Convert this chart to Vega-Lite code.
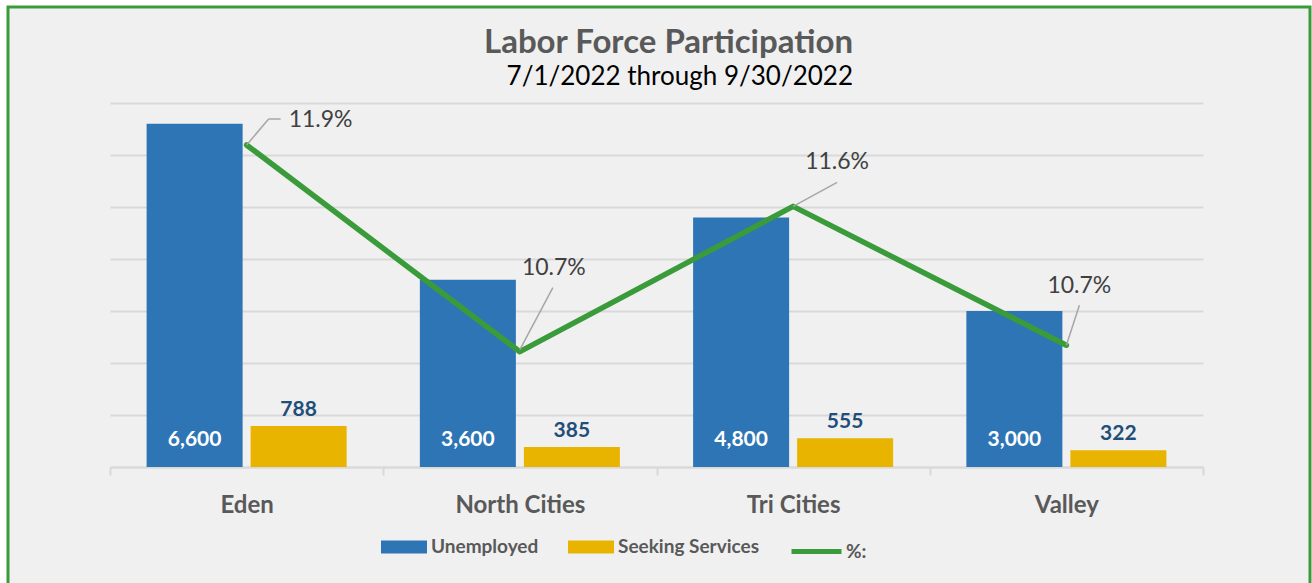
{
  "$schema": "https://vega.github.io/schema/vega-lite/v6.json",
  "width": 1302,
  "height": 581,
  "autosize": {"type": "none"},
  "padding": {"left": 8, "top": 7, "right": 2, "bottom": -5},
  "background": "#ffffff",
  "config": {
    "view": {"fill": "#f0f0f0", "stroke": "#3a9b3a", "strokeWidth": 3},
    "font": "Lato"
  },
  "title": {
    "text": "Labor Force Participation",
    "subtitle": "7/1/2022 through 9/30/2022",
    "anchor": "middle",
    "align": "right",
    "dx": 194,
    "offset": -83,
    "fontSize": 33,
    "fontWeight": "bold",
    "color": "#595959",
    "subtitleFontSize": 26,
    "subtitleColor": "#000000",
    "subtitlePadding": 4
  },
  "datasets": {
    "bars": [
      {"cat": "Eden", "series": "Unemployed", "value": 6600},
      {"cat": "Eden", "series": "Seeking Services", "value": 788},
      {"cat": "North Cities", "series": "Unemployed", "value": 3600},
      {"cat": "North Cities", "series": "Seeking Services", "value": 385},
      {"cat": "Tri Cities", "series": "Unemployed", "value": 4800},
      {"cat": "Tri Cities", "series": "Seeking Services", "value": 555},
      {"cat": "Valley", "series": "Unemployed", "value": 3000},
      {"cat": "Valley", "series": "Seeking Services", "value": 322}
    ],
    "pct": [
      {"cat": "Eden", "pct": 0.1194},
      {"cat": "North Cities", "pct": 0.1066},
      {"cat": "Tri Cities", "pct": 0.1156},
      {"cat": "Valley", "pct": 0.1070}
    ]
  },
  "layer": [
    {
      "data": {"name": "bars"},
      "layer": [
        {
          "mark": {"type": "bar"},
          "encoding": {
            "x": {
              "field": "cat", "type": "nominal",
              "sort": ["Eden", "North Cities", "Tri Cities", "Valley"],
              "scale": {"range": [102, 1195], "paddingInner": 0, "paddingOuter": 0},
              "axis": {
                "title": null, "labelAngle": 0, "labelFontSize": 24, "labelFontWeight": "bold",
                "labelColor": "#595959", "labelPadding": 18, "tickBand": "extent", "tickSize": 8,
                "tickColor": "#d9d9d9", "tickWidth": 2, "domainColor": "#d9d9d9", "domainWidth": 2,
                "offset": -121, "grid": false
              }
            },
            "xOffset": {
              "field": "series", "type": "nominal",
              "sort": ["Unemployed", "Seeking Services"],
              "scale": {"paddingInner": 0.0769, "paddingOuter": 0.352}
            },
            "y": {
              "field": "value", "type": "quantitative",
              "scale": {"domain": [0, 7000], "range": [460, 96], "nice": false, "zero": true},
              "axis": {
                "title": null, "labels": false, "ticks": false, "domain": false, "grid": true,
                "values": [0, 1000, 2000, 3000, 4000, 5000, 6000, 7000],
                "gridColor": "#d9d9d9", "gridWidth": 2
              }
            },
            "color": {
              "field": "series", "type": "nominal",
              "scale": {"domain": ["Unemployed", "Seeking Services"], "range": ["#2e75b6", "#e8b400"]},
              "legend": {
                "title": null, "orient": "none", "direction": "horizontal",
                "legendX": 373, "legendY": 517,
                "symbolType": "M-1,-0.283H1V0.283H-1Z", "symbolSize": 2116,
                "symbolStrokeWidth": 0, "symbolOpacity": 1,
                "labelFontSize": 19, "labelFontWeight": "bold", "labelColor": "#595959",
                "labelOffset": 4, "columnPadding": 29, "padding": 0
              }
            }
          }
        },
        {
          "transform": [{"filter": "datum.series === 'Unemployed'"}],
          "mark": {"type": "text", "color": "#ffffff", "fontSize": 21, "fontWeight": "bold", "baseline": "middle", "dy": -27},
          "encoding": {
            "x": {"field": "cat", "type": "nominal", "sort": ["Eden", "North Cities", "Tri Cities", "Valley"]},
            "xOffset": {"field": "series", "type": "nominal", "sort": ["Unemployed", "Seeking Services"]},
            "y": {"datum": 0, "type": "quantitative"},
            "text": {"field": "value", "type": "quantitative", "format": ","}
          }
        },
        {
          "transform": [{"filter": "datum.series === 'Seeking Services'"}],
          "mark": {"type": "text", "color": "#1f4e79", "fontSize": 21, "fontWeight": "bold", "baseline": "middle", "dy": -16},
          "encoding": {
            "x": {"field": "cat", "type": "nominal", "sort": ["Eden", "North Cities", "Tri Cities", "Valley"]},
            "xOffset": {"field": "series", "type": "nominal", "sort": ["Unemployed", "Seeking Services"]},
            "y": {"field": "value", "type": "quantitative"},
            "text": {"field": "value", "type": "quantitative", "format": ","}
          }
        }
      ]
    },
    {
      "data": {"name": "pct"},
      "encoding": {
        "x": {"field": "cat", "type": "nominal", "sort": ["Eden", "North Cities", "Tri Cities", "Valley"]},
        "y": {
          "field": "pct", "type": "quantitative",
          "scale": {"domain": [0.09946, 0.122], "range": [460, 96], "nice": false, "zero": false},
          "axis": null
        }
      },
      "layer": [
        {
          "mark": {"type": "line", "strokeWidth": 5.5, "strokeCap": "round", "strokeJoin": "round"},
          "encoding": {
            "stroke": {
              "datum": "%:",
              "scale": {"domain": ["%:"], "range": ["#3a9b3a"]},
              "legend": {
                "title": null, "orient": "none", "legendX": 781, "legendY": 517,
                "symbolType": "stroke", "symbolSize": 2500, "symbolStrokeWidth": 5,
                "labelFontSize": 19, "labelFontWeight": "bold", "labelColor": "#595959",
                "labelOffset": 2, "padding": 0
              }
            }
          }
        },
        {
          "transform": [{"filter": "datum.cat === 'Eden'"}],
          "layer": [
            {"mark": {"type": "rule", "color": "#a6a6a6", "strokeWidth": 1.5, "x2Offset": 22, "y2Offset": -26},
             "encoding": {"x2": {"field": "cat"}, "y2": {"field": "pct"}}},
            {"mark": {"type": "rule", "color": "#a6a6a6", "strokeWidth": 1.5, "xOffset": 22, "yOffset": -26, "x2Offset": 34, "y2Offset": -26},
             "encoding": {"x2": {"field": "cat"}, "y2": {"field": "pct"}}},
            {"mark": {"type": "text", "align": "left", "baseline": "middle", "dx": 42, "dy": -25, "fontSize": 23, "color": "#404040"},
             "encoding": {"text": {"field": "pct", "type": "quantitative", "format": ".1%"}}}
          ]
        },
        {
          "transform": [{"filter": "datum.cat === 'North Cities'"}],
          "layer": [
            {"mark": {"type": "rule", "color": "#a6a6a6", "strokeWidth": 1.5, "yOffset": -2, "x2Offset": 33, "y2Offset": -64},
             "encoding": {"x2": {"field": "cat"}, "y2": {"field": "pct"}}},
            {"mark": {"type": "text", "align": "left", "baseline": "middle", "dx": 2, "dy": -84, "fontSize": 23, "color": "#404040"},
             "encoding": {"text": {"field": "pct", "type": "quantitative", "format": ".1%"}}}
          ]
        },
        {
          "transform": [{"filter": "datum.cat === 'Tri Cities'"}],
          "layer": [
            {"mark": {"type": "rule", "color": "#a6a6a6", "strokeWidth": 1.5, "x2Offset": 44, "y2Offset": -24},
             "encoding": {"x2": {"field": "cat"}, "y2": {"field": "pct"}}},
            {"mark": {"type": "text", "align": "left", "baseline": "middle", "dx": 12, "dy": -44, "fontSize": 23, "color": "#404040"},
             "encoding": {"text": {"field": "pct", "type": "quantitative", "format": ".1%"}}}
          ]
        },
        {
          "transform": [{"filter": "datum.cat === 'Valley'"}],
          "layer": [
            {"mark": {"type": "rule", "color": "#a6a6a6", "strokeWidth": 1.5, "x2Offset": 13, "y2Offset": -40},
             "encoding": {"x2": {"field": "cat"}, "y2": {"field": "pct"}}},
            {"mark": {"type": "text", "align": "left", "baseline": "middle", "dx": -19, "dy": -59, "fontSize": 23, "color": "#404040"},
             "encoding": {"text": {"field": "pct", "type": "quantitative", "format": ".1%"}}}
          ]
        }
      ]
    }
  ],
  "resolve": {"scale": {"y": "independent"}}
}
